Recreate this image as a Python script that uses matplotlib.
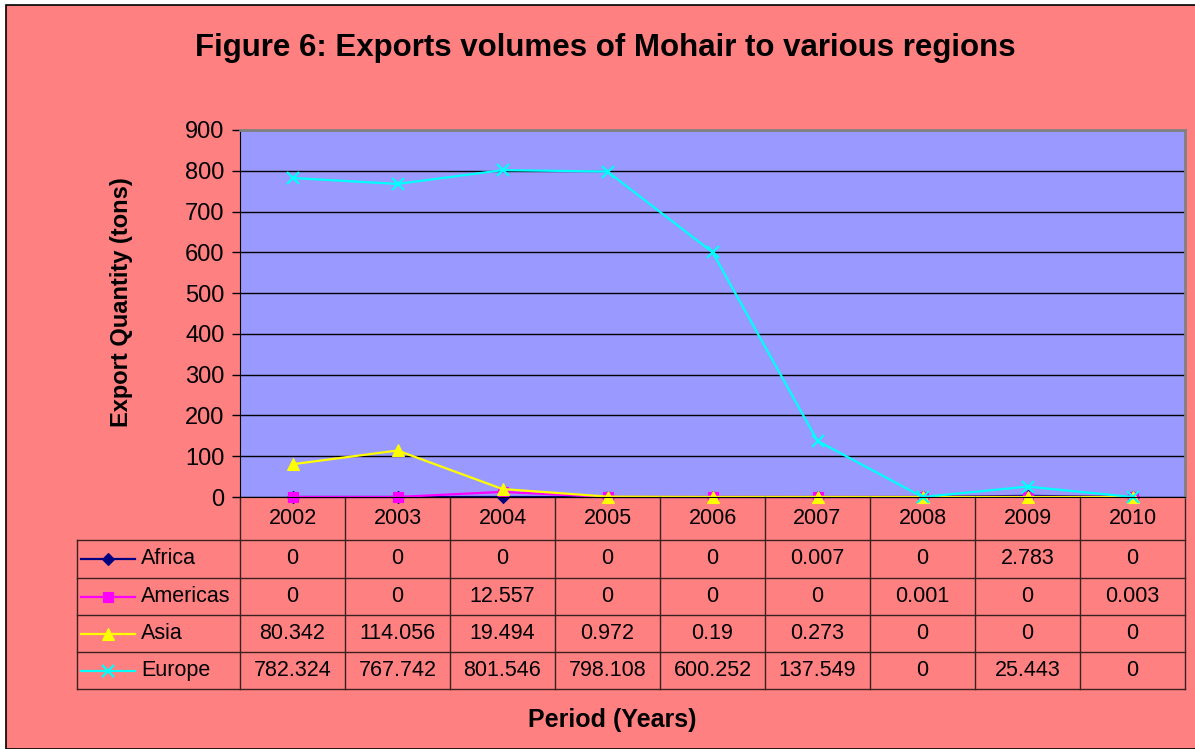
import matplotlib.pyplot as plt
from matplotlib.lines import Line2D
from matplotlib.patches import Rectangle
from matplotlib.transforms import blended_transform_factory

plt.rcParams['font.family'] = ['Liberation Sans', 'DejaVu Sans']

years = ['2002', '2003', '2004', '2005', '2006', '2007', '2008', '2009', '2010']
africa = [0, 0, 0, 0, 0, 0.007, 0, 2.783, 0]
americas = [0, 0, 12.557, 0, 0, 0, 0.001, 0, 0.003]
asia = [80.342, 114.056, 19.494, 0.972, 0.19, 0.273, 0, 0, 0]
europe = [782.324, 767.742, 801.546, 798.108, 600.252, 137.549, 0, 25.443, 0]

series = [
    ('Africa', africa, '#000080', 'D', 6),
    ('Americas', americas, '#FF00FF', 's', 7),
    ('Asia', asia, '#FFFF00', '^', 8),
    ('Europe', europe, '#00FFFF', 'x', 9),
]

W, H = 1195, 749
bg = '#FF8080'
fig = plt.figure(figsize=(W / 100, H / 100), dpi=100)
fig.patch.set_facecolor('white')
fig.patches.append(Rectangle((6 / W, 0), 1, 1 - 5 / H, transform=fig.transFigure,
                             facecolor=bg, edgecolor='black', linewidth=1.2, zorder=-10))

# plot area in pixel positions
left, right, top, bottom = 240, 1185, 130, 497
ax = fig.add_axes([left / W, 1 - bottom / H, (right - left) / W, (bottom - top) / H])
ax.set_facecolor('#9999FF')

x = list(range(len(years)))
for name, vals, col, mk, ms in series:
    ax.plot(x, vals, color=col, marker=mk, markersize=ms, linewidth=1.6,
            markeredgewidth=1.6 if mk == 'x' else 0.8, clip_on=False)

ax.set_xlim(-0.5, len(years) - 0.5)
ax.set_ylim(0, 900)
ax.set_yticks(range(0, 901, 100))
ax.yaxis.grid(True, color='black', linewidth=1)
ax.set_axisbelow(True)
ax.set_xticks([])
ax.tick_params(axis='y', labelsize=17, length=6, width=1, pad=5)
for s in ['top', 'right']:
    ax.spines[s].set_color('#808080')
    ax.spines[s].set_linewidth(2)
ax.spines['left'].set_color('black')
ax.spines['bottom'].set_color('black')
ax.set_ylabel('Export Quantity (tons)', fontsize=17, fontweight='bold')
ax.yaxis.set_label_coords((133 - left) / (right - left), (bottom - 302) / (bottom - top))

fig.text(605 / W, 1 - 48 / H, 'Figure 6: Exports volumes of Mohair to various regions',
         ha='center', va='center', fontsize=22.5, fontweight='bold')
fig.text(612 / W, 1 - 720 / H, 'Period (Years)', ha='center', va='center',
         fontsize=18, fontweight='bold')

# data table below the plot
tr = blended_transform_factory(ax.transData, fig.transFigure)
rows = [497, 540, 578, 615, 652, 689]
fy = lambda p: 1 - p / H
lc = '#3a2020'
for i in range(len(years) + 1):
    xb = i - 0.5
    ax.add_line(Line2D([xb, xb], [fy(rows[0]), fy(rows[-1])], transform=tr,
                       color=lc, linewidth=1, clip_on=False))
for r in rows[1:]:
    fig.add_artist(Line2D([77 / W, right / W], [fy(r), fy(r)], color=lc, linewidth=1))
fig.add_artist(Line2D([77 / W, 77 / W], [fy(rows[1]), fy(rows[-1])], color=lc, linewidth=1))

for i, yr in enumerate(years):
    ax.text(i, fy((rows[0] + rows[1]) / 2), yr, transform=tr, ha='center', va='center',
            fontsize=15.5)
for j, (name, vals, col, mk, ms) in enumerate(series):
    yc = fy((rows[j + 1] + rows[j + 2]) / 2)
    fig.add_artist(Line2D([81 / W, 135 / W], [yc, yc], color=col, linewidth=1.6))
    fig.add_artist(Line2D([108 / W], [yc], color=col, marker=mk, markersize=ms,
                          markeredgewidth=1.6 if mk == 'x' else 0.8, linestyle='none'))
    fig.text(141 / W, yc, name, ha='left', va='center', fontsize=15.5)
    for i, v in enumerate(vals):
        ax.text(i, yc, f'{v:g}', transform=tr, ha='center', va='center', fontsize=15.5)

fig.savefig('out.png', dpi=100, facecolor=fig.get_facecolor())
